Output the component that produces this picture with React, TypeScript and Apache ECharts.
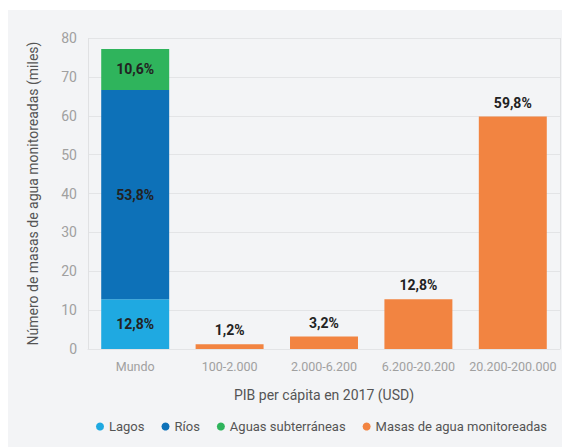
import React, { useEffect, useRef } from "react";
import * as echarts from "echarts";

const categories = ["Mundo", "100-2.000", "2.000-6.200", "6.200-20.200", "20.200-200.000"];
const lagos = [12.8, "-", "-", "-", "-"];
const rios = [53.8, "-", "-", "-", "-"];
const aguasSub = [10.6, "-", "-", "-", "-"];
const masas = ["-", 1.2, 3.2, 12.8, 59.8];
const yTicks = { min: 0, max: 80, interval: 10 };

const fmt = (p: any) => String(p.value).replace(".", ",") + "%";

export default function App() {
  const ref = useRef<HTMLDivElement>(null);
  useEffect(() => {
    if (!ref.current) return;
    document.documentElement.style.overflow = "hidden";
    document.body.style.overflow = "hidden";
    const chart = echarts.init(ref.current, undefined, { renderer: "svg" });
    const font = "Roboto, 'Noto Sans', sans-serif";
    const labelInside = {
      show: true,
      position: "inside",
      formatter: fmt,
      color: "#222222",
      fontWeight: "bold",
      fontSize: 14,
      fontFamily: font,
    };
    chart.setOption({
      animation: false,
      backgroundColor: "#f3f4f6",
      textStyle: { fontFamily: font },
      grid: { left: 80, right: 2, top: 28, bottom: 98, containLabel: false },
      legend: {
        left: 83,
        top: 405,
        icon: "circle",
        itemWidth: 8,
        itemHeight: 8,
        itemGap: 17,
        textStyle: { color: "#555555", fontSize: 13, fontFamily: font },
        data: ["Lagos", "Ríos", "Aguas subterráneas", "Masas de agua monitoreadas"],
      },
      xAxis: {
        type: "category",
        data: categories,
        name: "PIB per cápita en 2017 (USD)",
        nameLocation: "middle",
        nameGap: 39,
        nameTextStyle: { color: "#555555", fontSize: 14, fontFamily: font },
        axisLine: { show: true, lineStyle: { color: "#e3e4e6" } },
        axisTick: { show: false },
        axisLabel: { interval: 0, hideOverlap: false, color: "#a0a0a0", fontSize: 12.5, margin: 11, fontFamily: font },
        splitLine: {
          show: true,
          interval: (i: number) => i === 1,
          lineStyle: { color: "#e0e1e3", width: 1 },
        },
      },
      yAxis: {
        type: "value",
        min: yTicks.min,
        max: yTicks.max,
        interval: yTicks.interval,
        name: "Número de masas de agua monitoreadas (miles)",
        nameLocation: "middle",
        nameGap: 48,
        nameTextStyle: { color: "#555555", fontSize: 14, fontFamily: font },
        axisLine: { show: false },
        axisTick: { show: false },
        axisLabel: { color: "#a0a0a0", fontSize: 14, margin: 11, fontFamily: font },
        splitLine: { show: true, lineStyle: { color: "#e3e4e6", width: 1 } },
      },
      series: [
        { name: "Lagos", type: "bar", stack: "a", barWidth: "72%", data: lagos, itemStyle: { color: "#1fa9e1" }, label: labelInside },
        { name: "Ríos", type: "bar", stack: "a", data: rios, itemStyle: { color: "#0d71b8" }, label: labelInside },
        { name: "Aguas subterráneas", type: "bar", stack: "a", data: aguasSub, itemStyle: { color: "#2fb45c" }, label: labelInside },
        {
          name: "Masas de agua monitoreadas",
          type: "bar",
          stack: "a",
          data: masas,
          itemStyle: { color: "#f28441" },
          label: { ...labelInside, position: "top", distance: 7 },
        },
      ],
    });
    return () => chart.dispose();
  }, []);
  return (
    <div
      ref={ref}
      style={{ position: "fixed", left: 8, top: 10, width: 554, height: 437 }}
    />
  );
}
